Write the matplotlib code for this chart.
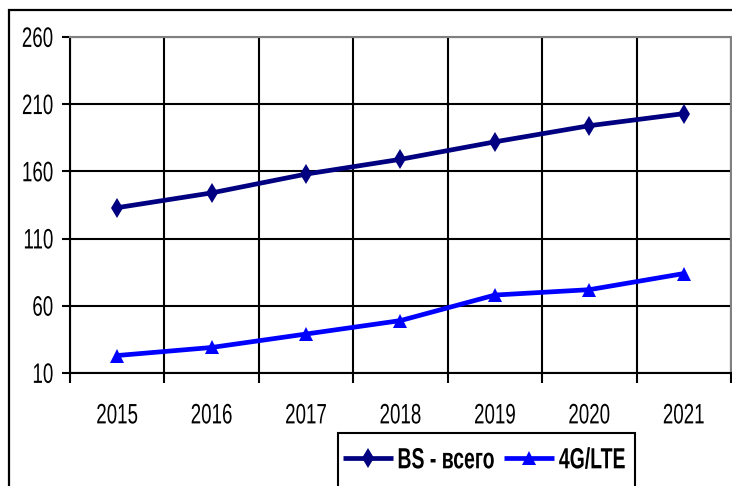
import matplotlib
matplotlib.use("Agg")
import matplotlib.pyplot as plt
from matplotlib.patches import Rectangle
from matplotlib.patheffects import AbstractPathEffect
from matplotlib.transforms import Affine2D

years = ["2015", "2016", "2017", "2018", "2019", "2020", "2021"]
bs_total = [133, 144, 158, 169, 182, 194, 203]
lte_4g = [23, 29, 39, 49, 68, 72, 84]
y_ticks = [10, 60, 110, 160, 210, 260]

plt.rcParams['font.family'] = ['Liberation Sans', 'DejaVu Sans']

DPI = 100
W, H = 732, 486


class VStretch(AbstractPathEffect):
    """Stretch glyphs vertically around their visual centre (narrow-font look)."""
    def __init__(self, sy=1.5, fontsize=13.5):
        super().__init__()
        self.sy = sy
        self.c = 0.36 * fontsize * DPI / 72.0

    def draw_path(self, renderer, gc, tpath, affine, rgbFace=None):
        m = affine.get_matrix()
        ox, oy = m[0, 2], m[1, 2] + self.c
        t = affine + Affine2D().translate(-ox, -oy).scale(1, self.sy).translate(ox, oy)
        renderer.draw_path(gc, tpath, t, rgbFace)


fig = plt.figure(figsize=(W / DPI, H / DPI), dpi=DPI)
fig.patch.set_facecolor('white')

# outer chart frame (extends beyond the visible image on right/bottom)
fig.patches.append(Rectangle((8.5 / W, -0.1), 1.2, 1 - 10 / H + 0.1,
                             transform=fig.transFigure, fill=False,
                             edgecolor='black', linewidth=1.6, clip_on=False))

left, right, bottom, top = 70 / W, 731 / W, 1 - 373 / H, 1 - 37 / H
ax = fig.add_axes([left, bottom, right - left, top - bottom])

x = list(range(len(years)))
ax.plot(x, bs_total, color='#000080', linewidth=3.4, marker='d', markersize=10,
        markeredgewidth=0, label='BS - всего', solid_capstyle='butt')
ax.plot(x, lte_4g, color='#0000FF', linewidth=3.4, marker='^', markersize=10,
        markeredgewidth=0, label='4G/LTE', solid_capstyle='butt')

ax.set_xlim(-0.5, len(years) - 0.5)
ax.set_ylim(10, 260)
ax.set_yticks(y_ticks)
ax.set_xticks(x)
ax.set_xticklabels(years)
ax.set_xticks([i - 0.5 for i in range(len(years) + 1)], minor=True)

ax.grid(True, which='major', axis='y', color='black', linewidth=1.5)
ax.grid(True, which='minor', axis='x', color='black', linewidth=1.5)
ax.set_axisbelow(True)

ax.tick_params(axis='x', which='major', length=0, pad=24.5, labelsize=13.5)
ax.tick_params(axis='x', which='minor', length=7, width=1.5, color='black', direction='out')
ax.tick_params(axis='y', length=6, width=1.5, direction='out', pad=6, labelsize=13.5)

for lbl in ax.get_xticklabels() + ax.get_yticklabels():
    lbl.set_path_effects([VStretch(1.5, 13.5)])

for s in ['top', 'right']:
    ax.spines[s].set_color('#808080')
    ax.spines[s].set_linewidth(1.5)
for s in ['left', 'bottom']:
    ax.spines[s].set_color('black')
    ax.spines[s].set_linewidth(1.5)

# legend box (frame drawn separately, extends past bottom edge)
fig.patches.append(Rectangle((338 / W, -0.05), (635 - 338) / W, (486 - 433) / H + 0.05,
                             transform=fig.transFigure, facecolor='white',
                             edgecolor='black', linewidth=1.5, clip_on=False))
leg = fig.legend(loc='center left', bbox_to_anchor=(343 / W, 1 - 460 / H),
                 ncol=2, frameon=False,
                 prop={'weight': 'bold', 'size': 14}, handlelength=2.55,
                 handletextpad=0.25, columnspacing=0.5, borderpad=0,
                 borderaxespad=0)
for t in leg.get_texts():
    t.set_path_effects([VStretch(1.5, 14)])

fig.savefig('out.png', dpi=DPI, facecolor='white')
